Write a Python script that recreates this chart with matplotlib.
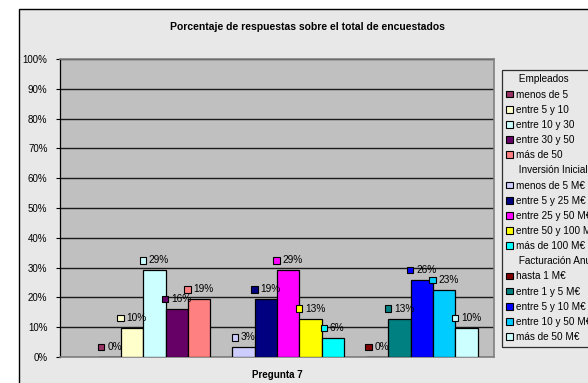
import numpy as np
import matplotlib
matplotlib.use("Agg")
import matplotlib.pyplot as plt
from matplotlib.patches import Rectangle, Patch
from matplotlib.offsetbox import DrawingArea, TextArea, HPacker, AnnotationBbox

plt.rcParams["font.family"] = ["Liberation Sans", "DejaVu Sans"]

# ---- datos (porcentaje sobre 31 encuestados) ----
titulo = "Porcentaje de respuestas sobre el total de encuestados"
categoria = "Pregunta 7"

grupos = ["Empleados", "Inversión Inicial", "Facturación Anual"]

empleados = ["menos de 5", "entre 5 y 10", "entre 10 y 30", "entre 30 y 50", "más de 50"]
empleados_val = [0.0, 9.68, 29.03, 16.13, 19.35]
empleados_col = ["#993366", "#FFFFCC", "#CCFFFF", "#660066", "#FF8080"]

inversion = ["menos de 5 M€", "entre 5 y 25 M€", "entre 25 y 50 M€",
             "entre 50 y 100 M€", "más de 100 M€"]
inversion_val = [3.23, 19.35, 29.03, 12.90, 6.45]
inversion_col = ["#CCCCFF", "#000080", "#FF00FF", "#FFFF00", "#00FFFF"]

facturacion = ["hasta 1 M€", "entre 1 y 5 M€", "entre 5 y 10 M€",
               "entre 10 y 50 M€", "más de 50 M€"]
facturacion_val = [0.0, 12.90, 25.81, 22.58, 9.68]
facturacion_col = ["#800000", "#008080", "#0000FF", "#00CCFF", "#CCFFFF"]

bloques = [
    (grupos[0], empleados, empleados_val, empleados_col),
    (grupos[1], inversion, inversion_val, inversion_col),
    (grupos[2], facturacion, facturacion_val, facturacion_col),
]

# ---- figura ----
W, H = 588, 383
fig = plt.figure(figsize=(W / 100, H / 100), dpi=100, facecolor="white")
BG = "#E8E8E8"
fig.patches.append(Rectangle((19 / W, -0.1), 1.2, 1.1 - 9 / H,
                             transform=fig.transFigure, facecolor=BG,
                             edgecolor="black", linewidth=1.0, zorder=-5))

ax = fig.add_axes([60 / W, 1 - 357 / H, 434 / W, (357 - 59) / H])
ax.set_facecolor("#C0C0C0")

# una serie "cabecera" vacía antes de cada grupo (como en Excel)
handles, labels = [], []
pos = 0
for nombre, series, vals, cols in bloques:
    handles.append(Patch(facecolor="none", edgecolor="none"))
    labels.append(" " + nombre)
    pos += 1
    for s, v, c in zip(series, vals, cols):
        ax.bar(pos, v, width=1.0, color=c, edgecolor="black", linewidth=0.9, zorder=3)
        # etiqueta de datos con clave de leyenda
        da = DrawingArea(4.6, 4.6, 0, 0)
        da.add_artist(Rectangle((0, 0), 4.6, 4.6, facecolor=c, edgecolor="black", linewidth=0.8))
        ta = TextArea(f"{v:.0f}%", textprops=dict(fontsize=7.3, color="black"))
        pack = HPacker(children=[da, ta], align="center", pad=0, sep=2)
        ab = AnnotationBbox(pack, (pos, v), xybox=(0, 7.2), xycoords="data",
                            boxcoords="offset points", frameon=False,
                            box_alignment=(0.5, 0.5), zorder=5)
        ax.add_artist(ab)
        handles.append(Patch(facecolor=c, edgecolor="black", linewidth=0.8))
        labels.append(s)
        pos += 1

ax.set_xlim(-1.24, 18.24)
ax.set_ylim(0, 100)
ax.set_yticks(np.arange(0, 101, 10))
ax.set_yticklabels([f"{t}%" for t in range(0, 101, 10)], fontsize=7)
ax.set_xticks([])
ax.yaxis.grid(True, color="#1a1a1a", linewidth=1.0, zorder=1)
ax.set_axisbelow(True)
ax.tick_params(axis="y", length=3, width=0.8, pad=6, colors="black")
for side in ["top", "right", "bottom"]:
    ax.spines[side].set_color("#808080")
    ax.spines[side].set_linewidth(1.2)
ax.spines["left"].set_color("black")
ax.spines["left"].set_linewidth(0.9)

fig.text(307 / W, 1 - 27 / H, titulo, ha="center", va="center",
         fontsize=7.5, fontweight="bold")
fig.text(277 / W, 1 - 375 / H, categoria, ha="center", va="center",
         fontsize=7, fontweight="bold")

leg = fig.legend(handles, labels, loc="upper left",
                 bbox_to_anchor=(502 / W, 1 - 70 / H), fontsize=7.2,
                 frameon=True, fancybox=False, facecolor=BG, edgecolor="black",
                 handlelength=0.65, handleheight=0.65, handletextpad=0.25,
                 labelspacing=0.515, borderpad=0.45, borderaxespad=0)
leg.get_frame().set_linewidth(0.9)

fig.savefig("out.png", dpi=100, facecolor="white")
